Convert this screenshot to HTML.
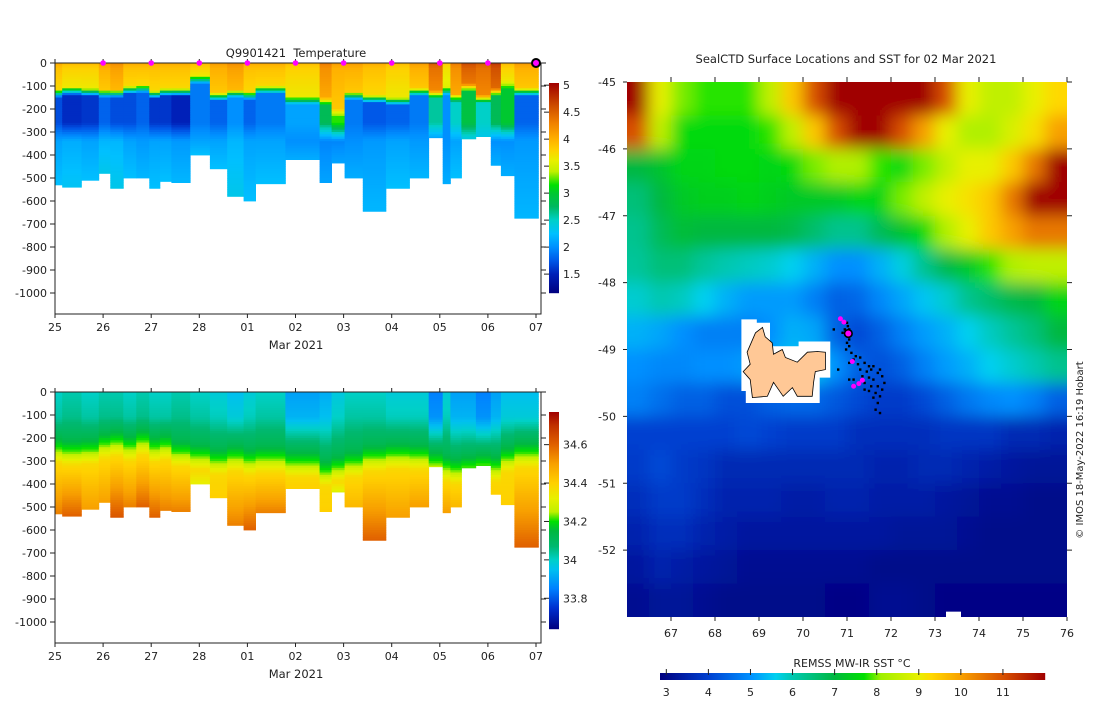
<!DOCTYPE html>
<html><head><meta charset="utf-8"><title>SealCTD Q9901421</title>
<style>
html,body{margin:0;padding:0;background:#fff;}
svg text{font-family:"DejaVu Sans","Liberation Sans",sans-serif;fill:#222;}
</style></head>
<body>
<svg id="chart" width="1100" height="700" viewBox="0 0 1100 700" xmlns="http://www.w3.org/2000/svg">
<defs>
<clipPath id="mapclip"><rect x="627" y="82" width="440" height="535"/></clipPath>
<filter id="soft" filterUnits="userSpaceOnUse" x="580" y="30" width="540" height="640"><feGaussianBlur stdDeviation="8"/></filter>
</defs>
<g id="tempPanel"></g>
<g id="salPanel"></g>
<g id="mapPanel"></g>
<text x="1083" y="450" font-size="10" text-anchor="middle" transform="rotate(-90 1083 450)">© IMOS 18-May-2022 16:19 Hobart</text>
</svg>
<script>
// ---------- Section data ----------
const colStart = [0,0.15,0.55,0.91,1.15,1.42,1.69,1.96,2.18,2.42,2.81,3.22,3.58,3.92,4.17,4.79,5.5,5.75,6.02,6.4,6.88,7.37,7.77,8.06,8.22,8.45,8.75,9.06,9.27,9.55];
const colEnd = 10.05;
const maxDepth = [530,540,510,480,545,500,500,545,515,520,400,460,580,600,525,420,520,435,500,645,545,500,325,525,500,330,320,445,490,675];
const surfTemp = [3.9,3.8,3.8,4.0,4.1,3.9,3.9,3.9,3.9,3.9,3.8,4.0,4.1,3.9,3.9,3.8,4.2,4.0,4.0,3.9,3.8,4.0,4.4,3.7,4.2,4.5,4.4,4.6,3.8,4.0];
const mixedLayer = [130,120,125,130,130,115,110,135,125,125,70,145,130,140,115,160,165,215,140,155,165,125,135,120,150,105,155,125,95,125];
const midTemp = [1.7,1.55,1.6,1.8,1.7,1.7,1.8,1.6,1.6,1.5,1.9,1.8,2.0,1.8,1.9,2.1,2.8,3.2,1.9,1.75,1.8,1.9,2.6,2.0,2.5,2.9,2.5,2.8,3.0,1.8];
const deepTemp = [2.1,2.15,2.1,2.2,2.2,2.1,2.05,2.1,2.1,2.05,2.1,2.1,2.2,2.1,2.1,2.0,1.95,1.95,2.0,2.05,2.1,2.05,2.0,2.0,2.1,2.3,2.3,2.0,2.0,2.05];
const surfSal = [34.0,34.02,34.0,34.02,34.02,34.0,34.02,34.0,34.0,34.02,34.0,33.98,33.95,33.98,34.0,33.9,33.92,33.97,34.0,34.0,33.98,33.98,33.85,33.98,33.9,33.9,33.85,33.9,33.95,33.95];
const halocline = [250,260,255,230,220,240,215,245,235,265,280,300,285,300,290,310,350,330,310,285,275,280,310,330,340,330,320,330,290,270];
const bottomSal = [34.55,34.6,34.5,34.5,34.62,34.55,34.6,34.6,34.55,34.55,34.32,34.4,34.55,34.6,34.55,34.4,34.4,34.3,34.45,34.6,34.5,34.5,34.33,34.5,34.45,34.25,34.2,34.4,34.4,34.6];
const dayLabels = ['25','26','27','28','01','02','03','04','05','06','07'];
const depthTicks = [0,-100,-200,-300,-400,-500,-600,-700,-800,-900,-1000];
const tempCbTicks = [1.5,2,2.5,3,3.5,4,4.5,5];
const salCbTicks = [33.8,34,34.2,34.4,34.6];
const markerDays = [1,2,3,4,5,6,7,8,9];
const lastDay = 10;

// ---------- Map data ----------
const lonTicks = [67,68,69,70,71,72,73,74,75,76];
const latTicks = [-45,-46,-47,-48,-49,-50,-51,-52];
const sstCbTicks = [3,4,5,6,7,8,9,10,11];
const sstRows = [
[12,9,8,7.8,7.8,7.8,8.5,9.5,11,12,12,12,12,12,11,9,8.5,8.5,9,9.3],
[11,8.5,7.6,7.6,7.6,7.6,7.8,8.5,9.5,11,12,12,11,10,9,8.3,8.3,8.8,9.2,10],
[7,7.2,7.5,7.5,7.6,7.6,7.5,7.6,8,8.3,8.3,7.8,7.6,8,8.5,9,9,9.5,10.5,12],
[6.5,7,7.3,7.4,7.4,7.5,7.4,7.3,7.3,7.3,7.5,7.5,8,8.5,9,9.2,9.5,10.5,12,12],
[6.3,6.8,7.1,7,7,7,7,6.9,6.6,6.3,6.3,6.8,7.2,7.6,8.3,9,9.5,10,10.5,10.5],
[6.2,6.5,6.5,6.2,6,5.9,5.8,5.6,5.3,5,5,5.3,5.7,6.3,6.9,7.3,7.8,8.3,8.5,8.5],
[5.8,6,5.9,5.6,5.3,5.1,5.1,5.1,4.8,4.4,4.5,4.9,5.2,5.5,5.8,6.3,6.6,6.9,7,7.5],
[5.3,5.2,5,4.8,4.8,4.8,5,5.3,5.2,4.4,4.1,4.4,4.8,5.1,5.3,5.6,5.9,6.2,6.5,7],
[5,4.9,4.9,5,5,5.1,5.3,5.5,5.5,5,4.4,4.2,4.4,4.8,5.1,5.3,5.6,5.8,6,6.3],
[4.8,4.6,4.4,4.4,4.2,4.2,4.4,4.5,4.5,4.3,4.1,3.9,3.9,4.1,4.4,4.7,4.9,5.0,4.8,4.4],
[4,4,4,4,4,4.1,4,3.9,3.9,3.9,3.7,3.7,3.7,3.7,3.8,3.8,3.8,3.6,3.6,3.5],
[3.9,4.1,3.9,3.8,3.6,3.6,3.6,3.6,3.6,3.6,3.6,3.5,3.5,3.6,3.6,3.5,3.4,3.3,3.2,3.2],
[3.7,3.9,3.9,3.7,3.5,3.5,3.5,3.4,3.4,3.5,3.5,3.4,3.4,3.4,3.3,3.2,3.1,3.1,3.0,3.0],
[3.5,3.7,3.7,3.5,3.4,3.3,3.3,3.3,3.3,3.3,3.3,3.3,3.2,3.2,3.2,3.1,3.0,3.0,3.0,3.0],
[3.3,3.5,3.4,3.3,3.2,3.1,3.1,3.1,3.1,3.1,3.1,3.0,3.0,3.0,3.0,3.0,3.0,3.0,3.0,3.0],
[3.1,3.2,3.2,3.1,3.0,3.0,3.0,3.0,3.0,2.95,2.95,3.1,3.1,3.0,2.95,2.95,2.95,2.95,2.95,2.95]
];
const trackLon = [71.0,71.02,70.95,71.05,71.0,71.05,71.0,71.05,70.98,71.1,71.2,71.3,71.15,71.05,71.25,71.4,71.5,71.55,71.6,71.3,71.45,71.7,71.75,71.8,71.35,71.5,71.6,71.85,71.4,71.55,71.7,71.8,71.65,71.5,71.75,71.6,71.7,71.65,71.75,71.05,71.15,70.9,70.7,70.8,71.4];
const trackLat = [-48.6,-48.65,-48.7,-48.7,-48.8,-48.85,-48.9,-48.95,-49.0,-49.05,-49.1,-49.12,-49.15,-49.2,-49.22,-49.2,-49.25,-49.3,-49.25,-49.3,-49.33,-49.35,-49.3,-49.4,-49.4,-49.42,-49.45,-49.5,-49.5,-49.55,-49.55,-49.6,-49.65,-49.62,-49.7,-49.72,-49.8,-49.9,-49.95,-49.45,-49.45,-48.75,-48.7,-49.3,-49.6];
const surfLon = [70.85,70.93,71.12,71.35,71.27,71.15];
const surfLat = [-48.54,-48.59,-49.18,-49.46,-49.51,-49.55];
const currentLon = [71.03];
const currentLat = [-48.76];
const islandLon = [68.73,68.92,69.08,69.14,69.30,69.33,69.53,69.60,69.87,70.10,70.33,70.51,70.51,70.28,70.24,70.21,69.87,69.76,69.55,69.33,69.19,68.85,68.80,68.64,68.80];
const islandLat = [-49.04,-48.75,-48.67,-48.81,-48.90,-49.07,-49.00,-49.12,-49.19,-49.04,-49.03,-49.04,-49.30,-49.33,-49.49,-49.70,-49.70,-49.57,-49.70,-49.49,-49.70,-49.72,-49.45,-49.33,-49.22];
const haloLon = [68.6,68.95,68.95,69.25,69.25,69.9,69.9,70.62,70.62,70.38,70.38,68.7,68.7,68.6];
const haloLat = [-48.55,-48.55,-48.6,-48.6,-48.95,-48.95,-48.88,-48.88,-49.42,-49.42,-49.8,-49.8,-49.62,-49.62];

// ---------- colormaps ----------
const tempStops=[[1.15,'#00007f'],[1.5,'#0020b8'],[1.75,'#0058e8'],[2.0,'#0090ff'],[2.25,'#00c0ff'],[2.5,'#00d0c8'],[2.75,'#00b860'],[3.0,'#00c830'],[3.15,'#00e000'],[3.4,'#c0f000'],[3.6,'#e8f000'],[3.8,'#ffd000'],[4.0,'#ffb000'],[4.3,'#f08000'],[4.6,'#d05000'],[5.04,'#a00000']];
const salStops=[[33.64,'#00007f'],[33.75,'#0030d0'],[33.85,'#0080ff'],[33.95,'#00c0f0'],[34.0,'#00d0c8'],[34.07,'#00b870'],[34.15,'#00b840'],[34.2,'#00e000'],[34.25,'#c0f000'],[34.32,'#e8f000'],[34.4,'#ffd000'],[34.5,'#f8a000'],[34.6,'#e06000'],[34.7,'#c03000'],[34.77,'#a00000']];
const sstStops=[[2.85,'#00007f'],[4,'#0040d0'],[5,'#0090ff'],[5.6,'#00d0f0'],[6,'#00c8b0'],[7,'#00b840'],[7.7,'#00e000'],[8.1,'#a0f000'],[9,'#e8f000'],[9.3,'#ffd800'],[10,'#f8a000'],[11,'#d85000'],[12,'#a00000']];
function hx(c){return [parseInt(c.substr(1,2),16),parseInt(c.substr(3,2),16),parseInt(c.substr(5,2),16)];}
function cmap(stops,v){
  if(v<=stops[0][0])return stops[0][1];
  for(let i=1;i<stops.length;i++){
    if(v<=stops[i][0]){const a=hx(stops[i-1][1]),b=hx(stops[i][1]);const t=(v-stops[i-1][0])/(stops[i][0]-stops[i-1][0]);
      return 'rgb('+a.map((x,k)=>Math.round(x+(b[k]-x)*t)).join(',')+')';}
  }
  return stops[stops.length-1][1];
}
const NS='http://www.w3.org/2000/svg';
function el(tag,attrs,parent){const e=document.createElementNS(NS,tag);for(const k in attrs)e.setAttribute(k,attrs[k]);parent.appendChild(e);return e;}
function txt(s,attrs,parent){const e=el('text',attrs,parent);e.textContent=s;return e;}
function interp(nodes,d){
  for(let i=1;i<nodes.length;i++){if(d<=nodes[i][0]){const t=(d-nodes[i-1][0])/(nodes[i][0]-nodes[i-1][0]||1);return nodes[i-1][1]+(nodes[i][1]-nodes[i-1][1])*t;}}
  return nodes[nodes.length-1][1];
}

function drawSection(g,top,kind){
  const X0=55,X1=541,bottom=top+251;
  const xs=d=>X0+d*48.1;
  const ys=dep=>top+dep*0.23;
  for(let i=0;i<colStart.length;i++){
    const x0=xs(colStart[i]),x1=xs(i+1<colStart.length?colStart[i+1]:colEnd);
    const md=maxDepth[i];
    let nodes,stops;
    if(kind==='temp'){
      nodes=[[0,surfTemp[i]+0.15],[20,surfTemp[i]],[mixedLayer[i]-15,surfTemp[i]-0.15],[mixedLayer[i]+20,midTemp[i]],[260,midTemp[i]],[340,deepTemp[i]],[md,deepTemp[i]+0.15]];
      stops=tempStops;
    } else {
      nodes=[[0,surfSal[i]],[110,surfSal[i]+0.03],[halocline[i]-60,34.12],[halocline[i],34.22],[halocline[i]+60,34.38],[md,bottomSal[i]]];
      stops=salStops;
    }
    const col=el('g',{},g);
    
    
    for(let d=0;d<md;d+=10){
      const dd=Math.min(10,md-d);
      el('rect',{x:x0.toFixed(1),y:ys(d).toFixed(1),width:(x1-x0+0.4).toFixed(1),height:(dd*0.23+0.4).toFixed(2),fill:cmap(stops,interp(nodes,d+5))},col);
    }
  }
  const box=el('rect',{x:X0,y:top,width:X1-X0,height:bottom-top,fill:'none',stroke:'#222','stroke-width':1},g);
  
  
  depthTicks.forEach(v=>{
    const y=ys(-v);
    el('line',{x1:X0-5,x2:X0,y1:y,y2:y,stroke:'#222'},g);
    el('line',{x1:X1,x2:X1+5,y1:y,y2:y,stroke:'#222'},g);
    const t=txt(String(v),{x:X0-8,y:y+4,'font-size':11,'text-anchor':'end'},g);
    
    
  });
  dayLabels.forEach((s,i)=>{
    const x=xs(i);
    el('line',{x1:x,x2:x,y1:bottom,y2:bottom+4,stroke:'#222'},g);
    el('line',{x1:x,x2:x,y1:top-4,y2:top,stroke:'#222'},g);
    const t=txt(s,{x:x,y:bottom+17,'font-size':11,'text-anchor':'middle'},g);
    
    
  });
  const xl=txt('Mar 2021',{x:296,y:bottom+35,'font-size':11.5,'text-anchor':'middle'},g);
  
  
  const cb=el('g',{},g);
  
  
  const cbTop=top+20, cbBot=top+(kind==='temp'?230:237);
  const vmin=kind==='temp'?1.15:33.64, vmax=kind==='temp'?5.04:34.77;
  const stops=kind==='temp'?tempStops:salStops;
  const cy=v=>cbBot-(v-vmin)/(vmax-vmin)*(cbBot-cbTop);
  for(let y=cbTop;y<cbBot;y+=1){
    el('rect',{x:549,y:y,width:10,height:1.2,fill:cmap(stops,vmax-(y-cbTop+0.5)/(cbBot-cbTop)*(vmax-vmin))},cb);
  }
  (kind==='temp'?tempCbTicks:salCbTicks).forEach(v=>{
    const y=cy(v);
    el('line',{x1:544,x2:549,y1:y,y2:y,stroke:'#222'},cb);
    const t=txt(String(v),{x:563,y:y+4,'font-size':11},cb);
    
    
  });
  if(kind==='temp'){
    const tt=txt('Q9901421\u00a0\u00a0Temperature',{x:296,y:57,'font-size':11.5,'text-anchor':'middle'},g);
    
    
    markerDays.forEach(d=>{
      const m=el('circle',{cx:xs(d),cy:top,r:2.8,fill:'#ff00ff'},g);
      
      
    });
    const cur=el('circle',{cx:xs(lastDay),cy:top,r:4,fill:'#ff00ff',stroke:'#000','stroke-width':2},g);
    
    
  }
}
drawSection(document.getElementById('tempPanel'),63,'temp');
drawSection(document.getElementById('salPanel'),392,'sal');

// ---------- map ----------
(function(){
  const g=document.getElementById('mapPanel');
  const X0=627,X1=1067,Y0=82,Y1=617;
  const lx=lon=>X0+(lon-66)*44;
  const ly=lat=>Y0+(-45-lat)*66.875;
  const t=txt('SealCTD Surface Locations and SST for 02 Mar 2021',{x:846,y:63,'font-size':11.5,'text-anchor':'middle'},g);
  
  
  const clip=el('g',{'clip-path':'url(#mapclip)'},g);
  const field=el('g',{filter:'url(#soft)'},clip);
  
  
  const nr=sstRows.length,nc=sstRows[0].length;
  for(let r=0;r<nr;r++)for(let c=0;c<nc;c++){
    let x0=lx(66+c*0.5),x1=lx(66.5+c*0.5),y0=ly(-45-r*0.5),y1=ly(-45.5-r*0.5);
    if(c===0)x0-=30; if(c===nc-1)x1+=30; if(r===0)y0-=30; if(r===nr-1)y1+=30;
    const cell=el('rect',{x:x0.toFixed(1),y:y0.toFixed(1),width:(x1-x0+0.5).toFixed(1),height:(y1-y0+0.5).toFixed(1),fill:cmap(sstStops,sstRows[r][c])},field);
    
    
  }
  const halo=el('polygon',{points:haloLon.map((v,i)=>lx(v).toFixed(1)+','+ly(haloLat[i]).toFixed(1)).join(' '),fill:'#fff'},clip);
  
  
  const wb=el('rect',{x:lx(73.25),y:ly(-52.92),width:15,height:6,fill:'#fff'},clip);
  
  
  const isl=el('polygon',{points:islandLon.map((v,i)=>lx(v).toFixed(1)+','+ly(islandLat[i]).toFixed(1)).join(' '),fill:'#ffc896',stroke:'#000','stroke-width':0.8},clip);
  
  
  trackLon.forEach((v,i)=>{
    const d=el('rect',{x:lx(v)-1.2,y:ly(trackLat[i])-1.2,width:2.4,height:2.4,fill:'#000'},clip);
    
    
  });
  surfLon.forEach((v,i)=>{
    const d=el('circle',{cx:lx(v),cy:ly(surfLat[i]),r:2.5,fill:'#ff00ff'},clip);
    
    
  });
  currentLon.forEach((v,i)=>{
    const d=el('circle',{cx:lx(v),cy:ly(currentLat[i]),r:3.8,fill:'#ff00ff',stroke:'#000','stroke-width':1.6},clip);
    
    
  });
  lonTicks.forEach(v=>{
    const x=lx(v);
    el('line',{x1:x,x2:x,y1:Y0-5,y2:Y0,stroke:'#222'},g);
    el('line',{x1:x,x2:x,y1:Y1,y2:Y1+4,stroke:'#222'},g);
    const l=txt(String(v),{x:x,y:Y1+20,'font-size':11,'text-anchor':'middle'},g);
    
    
  });
  latTicks.forEach(v=>{
    const y=ly(v);
    el('line',{x1:X0-4,x2:X0,y1:y,y2:y,stroke:'#222'},g);
    el('line',{x1:X1,x2:X1+5,y1:y,y2:y,stroke:'#222'},g);
    const l=txt(String(v),{x:616,y:y+4,'font-size':11,'text-anchor':'end'},g);
    
    
  });
  const cb=el('g',{},g);
  
  
  const cx0=660,cx1=1045,vmin=2.85,vmax=12.0;
  const cx=v=>cx0+(v-vmin)/(vmax-vmin)*(cx1-cx0);
  for(let x=cx0;x<cx1;x+=1){
    el('rect',{x:x,y:673,width:1.2,height:7,fill:cmap(sstStops,vmin+(x-cx0+0.5)/(cx1-cx0)*(vmax-vmin))},cb);
  }
  sstCbTicks.forEach(v=>{
    const x=cx(v);
    el('line',{x1:x,x2:x,y1:669,y2:675,stroke:'#222'},cb);
    const l=txt(String(v),{x:x,y:696,'font-size':11,'text-anchor':'middle'},cb);
    
    
  });
  const cl=txt('REMSS MW-IR SST °C',{x:852,y:667,'font-size':11,'text-anchor':'middle'},cb);
  
  
})();
</script>
</body></html>
